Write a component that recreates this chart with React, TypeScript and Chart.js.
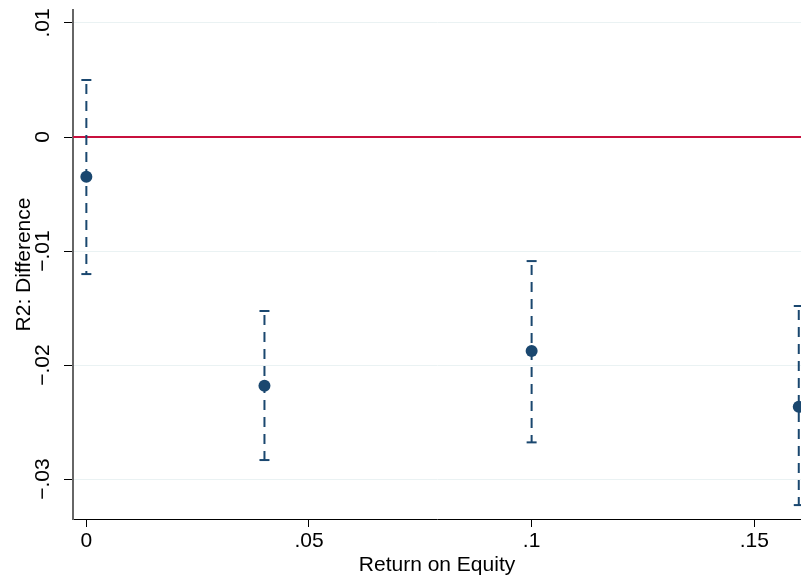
import React, { useEffect, useRef } from "react";
import { Chart, registerables } from "chart.js";

Chart.register(...registerables);

// Data
const xValues = [0, 0.04, 0.1, 0.16];
const estimates = [-0.00348, -0.02182, -0.01877, -0.02366];
const ciUpper = [0.005, -0.01526, -0.01088, -0.01482];
const ciLower = [-0.01202, -0.02833, -0.02678, -0.03228];

const yTickValues = [0.01, 0, -0.01, -0.02, -0.03];
const yTickLabels = [".01", "0", "\u2212.01", "\u2212.02", "\u2212.03"];
const xTickValues = [0, 0.05, 0.1, 0.15];
const xTickLabels = ["0", ".05", ".1", ".15"];

const xMin = -0.003;
const xMax = 0.1605;
const yMin = -0.0335;
const yMax = 0.01114;

const NAVY = "#1a476f";
const RED = "#c8103e";
const GRID = "#eaf2f3";
const FONT = "'Liberation Sans', Arial, Helvetica, sans-serif";

export default function App() {
  const ref = useRef<HTMLCanvasElement>(null);

  useEffect(() => {
    const canvas = ref.current;
    if (!canvas) return;

    const datasets: any[] = [];
    datasets.push({
      type: "scatter",
      label: "estimate",
      data: xValues.map((x, i) => ({ x, y: estimates[i] })),
      backgroundColor: NAVY,
      borderColor: NAVY,
      pointRadius: 6,
      pointBorderWidth: 0,
      pointHoverRadius: 6,
    });
    xValues.forEach((x, i) => {
      datasets.push({
        type: "line",
        label: "ci" + i,
        data: [
          { x, y: ciUpper[i] },
          { x, y: ciLower[i] },
        ],
        showLine: true,
        borderColor: NAVY,
        borderWidth: 2,
        borderDash: [10, 7],
        borderDashOffset: 13,
        pointStyle: "line",
        pointRadius: 5,
        pointHoverRadius: 5,
        pointBorderWidth: 2,
        pointBorderColor: NAVY,
        pointBackgroundColor: NAVY,
        fill: false,
        tension: 0,
      });
    });
    datasets.push({
      type: "line",
      label: "zero",
      data: [
        { x: xMin, y: 0 },
        { x: xMax, y: 0 },
      ],
      showLine: true,
      borderColor: RED,
      borderWidth: 2,
      pointRadius: 0,
      pointHoverRadius: 0,
      fill: false,
    });

    const chart = new Chart(canvas, {
      type: "scatter",
      data: { datasets },
      options: {
        animation: false,
        responsive: false,
        events: [],
        layout: { autoPadding: false, padding: { top: 10, right: 0, left: 0, bottom: 0 } },
        plugins: {
          legend: { display: false },
          tooltip: { enabled: false },
        },
        scales: {
          x: {
            type: "linear",
            min: xMin,
            max: xMax,
            afterBuildTicks: (scale: any) => {
              scale.ticks = xTickValues.map((v) => ({ value: v }));
            },
            afterFit: (scale: any) => {
              scale.height = 60;
              scale.paddingLeft = 0;
              scale.paddingRight = 0;
            },
            ticks: {
              autoSkip: false,
              maxRotation: 0,
              minRotation: 0,
              padding: 2,
              color: "#000",
              font: { family: FONT, size: 21 },
              callback: (value: any) => {
                const idx = xTickValues.findIndex((v) => Math.abs(v - value) < 1e-9);
                return idx >= 0 ? xTickLabels[idx] : "";
              },
            },
            grid: {
              drawOnChartArea: false,
              drawTicks: true,
              tickLength: 8,
              tickColor: "#000",
              tickWidth: 1,
            },
            border: { display: true, color: "#000", width: 1 },
            title: {
              display: true,
              text: "Return on Equity",
              color: "#000",
              font: { family: FONT, size: 21 },
              padding: { top: 0, bottom: 1 },
            },
          },
          y: {
            type: "linear",
            min: yMin,
            max: yMax,
            afterBuildTicks: (scale: any) => {
              scale.ticks = yTickValues.map((v) => ({ value: v }));
            },
            afterFit: (scale: any) => {
              scale.width = 73;
              scale.paddingTop = 0;
              scale.paddingBottom = 0;
            },
            ticks: {
              autoSkip: false,
              minRotation: 90,
              maxRotation: 90,
              crossAlign: "center",
              padding: 0,
              color: "#000",
              font: { family: FONT, size: 21 },
              callback: (value: any) => {
                const idx = yTickValues.findIndex((v) => Math.abs(v - value) < 1e-9);
                return idx >= 0 ? yTickLabels[idx] : "";
              },
            },
            grid: {
              drawOnChartArea: true,
              drawTicks: true,
              color: GRID,
              lineWidth: 1,
              tickLength: 9,
              tickColor: "#000",
              tickWidth: 1,
            },
            border: { display: true, color: "#666666", width: 2 },
            title: {
              display: true,
              text: "R2: Difference",
              color: "#000",
              font: { family: FONT, size: 21 },
              padding: { top: 12, bottom: 0 },
            },
          },
        },
      } as any,
    });

    return () => {
      chart.destroy();
    };
  }, []);

  return (
    <div style={{ position: "fixed", left: 0, top: 0, width: 801, height: 579, background: "#fff" }}>
      <canvas ref={ref} width={801} height={579} style={{ display: "block", width: 801, height: 579 }} />
    </div>
  );
}
